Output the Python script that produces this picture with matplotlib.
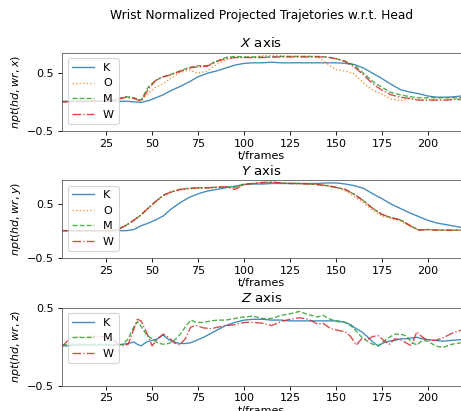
import matplotlib
matplotlib.use("Agg")
import matplotlib.pyplot as plt

# frame positions (x) at which values were sampled
frames_xy = [1, 10, 20, 28, 32, 36, 40, 44, 48, 52, 56, 60, 65, 70, 75, 80, 85, 90,
             95, 100, 105, 110, 115, 120, 125, 130, 135, 140, 145, 150, 155, 160,
             165, 170, 175, 180, 185, 190, 195, 200, 205, 210, 215, 218]
frames_z = [1, 5, 10, 20, 28, 31, 34, 37, 40, 42, 44, 47, 50, 53, 56, 59, 62, 65,
            68, 71, 74, 78, 82, 86, 90, 95, 100, 105, 110, 115, 120, 125, 130, 135,
            140, 143, 147, 151, 155, 158, 161, 164, 167, 170, 173, 176, 179, 182,
            185, 188, 191, 194, 197, 200, 204, 208, 213, 218]

# X axis
x_K = [0.01, 0.01, 0.01, 0.01, 0.01, 0.01, 0.0, -0.01, 0.02, 0.07, 0.12, 0.19, 0.26,
       0.34, 0.43, 0.49, 0.53, 0.58, 0.63, 0.66, 0.67, 0.67, 0.68, 0.67, 0.67, 0.67,
       0.67, 0.67, 0.67, 0.67, 0.66, 0.64, 0.58, 0.49, 0.40, 0.30, 0.21, 0.17, 0.14,
       0.10, 0.08, 0.08, 0.09, 0.10]
x_O = [0.0, 0.01, 0.01, 0.02, 0.04, 0.08, 0.07, 0.02, 0.15, 0.25, 0.31, 0.40, 0.50,
       0.55, 0.49, 0.53, 0.64, 0.72, 0.76, 0.76, 0.77, 0.79, 0.80, 0.79, 0.78, 0.78,
       0.78, 0.77, 0.66, 0.55, 0.53, 0.48, 0.32, 0.20, 0.13, 0.05, 0.02, 0.06, 0.03,
       0.04, 0.04, 0.04, 0.05, 0.05]
x_M = [0.0, 0.01, 0.01, 0.03, 0.06, 0.09, 0.07, 0.03, 0.26, 0.37, 0.43, 0.47, 0.53,
       0.59, 0.62, 0.62, 0.70, 0.76, 0.78, 0.77, 0.77, 0.77, 0.77, 0.78, 0.78, 0.78,
       0.78, 0.78, 0.77, 0.74, 0.70, 0.63, 0.49, 0.35, 0.25, 0.16, 0.12, 0.09, 0.07,
       0.07, 0.07, 0.07, 0.07, 0.07]
x_W = [0.0, 0.0, 0.01, 0.02, 0.05, 0.08, 0.06, 0.01, 0.22, 0.37, 0.43, 0.46, 0.52,
       0.58, 0.60, 0.61, 0.69, 0.74, 0.76, 0.76, 0.76, 0.76, 0.77, 0.77, 0.77, 0.77,
       0.77, 0.77, 0.77, 0.74, 0.69, 0.60, 0.46, 0.31, 0.20, 0.12, 0.08, 0.06, 0.03,
       0.03, 0.03, 0.03, 0.04, 0.04]

# Y axis
y_K = [0.01, 0.01, 0.01, 0.01, 0.01, 0.01, 0.03, 0.10, 0.15, 0.21, 0.28, 0.40, 0.52,
       0.62, 0.69, 0.74, 0.77, 0.80, 0.83, 0.86, 0.87, 0.87, 0.88, 0.88, 0.88, 0.88,
       0.88, 0.88, 0.89, 0.89, 0.87, 0.84, 0.79, 0.69, 0.60, 0.50, 0.42, 0.34, 0.27,
       0.20, 0.15, 0.12, 0.09, 0.07]
y_O = [0.01, 0.01, 0.01, 0.02, 0.05, 0.12, 0.20, 0.30, 0.42, 0.54, 0.65, 0.71, 0.76,
       0.78, 0.79, 0.80, 0.81, 0.82, 0.80, 0.86, 0.88, 0.89, 0.89, 0.88, 0.88, 0.87,
       0.87, 0.86, 0.84, 0.80, 0.74, 0.64, 0.52, 0.38, 0.28, 0.23, 0.19, 0.09, 0.02,
       0.03, 0.02, 0.02, 0.02, 0.02]
y_M = [0.01, 0.01, 0.01, 0.01, 0.04, 0.11, 0.20, 0.30, 0.43, 0.55, 0.66, 0.72, 0.77,
       0.79, 0.80, 0.80, 0.81, 0.82, 0.81, 0.87, 0.88, 0.89, 0.90, 0.89, 0.88, 0.88,
       0.87, 0.86, 0.84, 0.81, 0.77, 0.68, 0.56, 0.42, 0.31, 0.25, 0.21, 0.11, 0.02,
       0.03, 0.02, 0.02, 0.02, 0.02]
y_W = [0.01, 0.01, 0.01, 0.01, 0.04, 0.11, 0.20, 0.30, 0.43, 0.55, 0.66, 0.72, 0.77,
       0.79, 0.80, 0.80, 0.81, 0.82, 0.77, 0.86, 0.88, 0.90, 0.91, 0.89, 0.88, 0.88,
       0.87, 0.86, 0.84, 0.81, 0.77, 0.68, 0.56, 0.42, 0.31, 0.25, 0.21, 0.11, 0.02,
       0.03, 0.02, 0.02, 0.02, 0.02]

# Z axis (no O series)
z_K = [0.01, 0.01, 0.02, 0.02, 0.02, 0.02, 0.03, 0.04, 0.06, 0.03, 0.01, 0.06, 0.08,
       0.10, 0.15, 0.09, 0.06, 0.04, 0.04, 0.05, 0.08, 0.12, 0.17, 0.22, 0.27, 0.31,
       0.34, 0.35, 0.35, 0.34, 0.34, 0.33, 0.33, 0.33, 0.33, 0.33, 0.33, 0.33, 0.31,
       0.28, 0.23, 0.19, 0.13, 0.06, 0.01, 0.05, 0.07, 0.08, 0.10, 0.10, 0.11, 0.12,
       0.10, 0.09, 0.08, 0.07, 0.08, 0.09]
z_M = [0.02, 0.03, 0.03, 0.03, 0.03, 0.02, 0.03, 0.10, 0.25, 0.32, 0.26, 0.15, 0.10,
       0.05, 0.03, 0.04, 0.08, 0.15, 0.25, 0.34, 0.31, 0.31, 0.33, 0.34, 0.34, 0.36,
       0.38, 0.39, 0.36, 0.36, 0.40, 0.42, 0.45, 0.41, 0.38, 0.40, 0.35, 0.32, 0.31,
       0.27, 0.20, 0.12, 0.07, 0.03, 0.01, 0.07, 0.12, 0.16, 0.16, 0.14, 0.06, 0.02,
       0.08, 0.07, 0.01, -0.01, 0.03, 0.05]
z_W = [0.0, 0.10, 0.13, 0.13, 0.12, 0.04, 0.01, 0.03, 0.22, 0.35, 0.33, 0.18, 0.01,
       0.10, 0.16, 0.12, 0.05, 0.02, 0.10, 0.25, 0.27, 0.24, 0.23, 0.25, 0.27, 0.28,
       0.31, 0.31, 0.30, 0.27, 0.32, 0.35, 0.37, 0.35, 0.29, 0.30, 0.23, 0.21, 0.19,
       0.13, 0.02, 0.10, 0.09, 0.13, 0.14, 0.08, 0.03, 0.10, 0.09, 0.05, 0.01, 0.19,
       0.12, 0.08, 0.08, 0.11, 0.17, 0.21]

styles = {"K": ("tab:blue", "-"), "O": ("tab:orange", ":"),
          "M": ("tab:green", "--"), "W": ("tab:red", "-.")}

panels = [
    ("$X$ axis", "$npt(hd, wr, x)$", frames_xy,
     [("K", x_K), ("O", x_O), ("M", x_M), ("W", x_W)], 0.84, 0.6813),
    ("$Y$ axis", "$npt(hd, wr, y)$", frames_xy,
     [("K", y_K), ("O", y_O), ("M", y_M), ("W", y_W)], 0.94, 0.3715),
    ("$Z$ axis", "$npt(hd, wr, z)$", frames_z,
     [("K", z_K), ("M", z_M), ("W", z_W)], 0.5, 0.0616),
]

fig = plt.figure(figsize=(461 / 80, 411 / 80), dpi=80)
fig.text(0.567, 0.963, "Wrist Normalized Projected Trajetories w.r.t. Head",
         ha="center", va="center", fontsize=11)

for title, ylab, fr, series, ytop, bottom in panels:
    ax = fig.add_axes([0.1345, bottom, 0.8655, 0.19])
    for name, vals in series:
        c, ls = styles[name]
        ax.plot(fr, vals, color=c, linestyle=ls, linewidth=1.2, alpha=0.85, label=name)
    ax.set_xlim(1, 218)
    ax.set_ylim(-0.5, ytop)
    ax.set_yticks([-0.5, 0.5])
    for sp in ax.spines.values():
        sp.set_color("0.4")
    ax.set_title(title, fontsize=12, pad=5)
    ax.set_xlabel("t/frames", labelpad=2)
    ax.set_ylabel(ylab)
    ax.legend(loc="upper left")

fig.savefig("out.png", dpi=80)
